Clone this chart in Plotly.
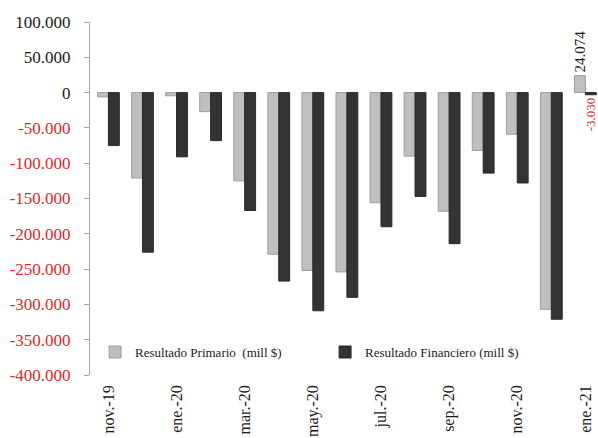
import plotly.graph_objects as go

# Monthly fiscal results (millions of pesos)
categories = ["nov.-19", "dic.-19", "ene.-20", "feb.-20", "mar.-20", "abr.-20",
              "may.-20", "jun.-20", "jul.-20", "ago.-20", "sep.-20", "oct.-20",
              "nov.-20", "dic.-20", "ene.-21"]
primario = [-6000, -121000, -4500, -27000, -125000, -229000, -252000, -254000,
            -156000, -90000, -168000, -82000, -59000, -307000, 24074]
financiero = [-75000, -226000, -91000, -68000, -167000, -267000, -309000, -290000,
              -190000, -147000, -214000, -114000, -128000, -321000, -3030]
tick_values = [100000, 50000, 0, -50000, -100000, -150000, -200000, -250000,
               -300000, -350000, -400000]
shown_months = ["nov.-19", "ene.-20", "mar.-20", "may.-20", "jul.-20",
                "sep.-20", "nov.-20", "ene.-21"]

RED = "#e3262b"
INK = "#1a1a1a"
FONT = "Liberation Serif"


def fmt(v):
    return f"{v:,}".replace(",", ".")


def tick_label(v):
    s = fmt(v)
    return f'<span style="color:{RED}">{s}</span>' if v < 0 else s


def value_text(vals):
    # only the latest month carries a data label
    last = len(vals) - 1
    return [fmt(v) if i == last else "" for i, v in enumerate(vals)]


def value_colors(vals):
    return [RED if v < 0 else INK for v in vals]


fig = go.Figure()
fig.add_trace(go.Bar(
    x=categories, y=primario, name="Resultado Primario\u00a0 (mill $)",
    marker=dict(color="#bfbfbf", line=dict(color="#9e9e9e", width=1)),
    text=value_text(primario), textposition="outside", textangle=-90,
    textfont=dict(family=FONT, size=15, color=value_colors(primario)),
    constraintext="none", cliponaxis=False,
))
fig.add_trace(go.Bar(
    x=categories, y=financiero, name="Resultado Financiero (mill $)",
    marker=dict(color="#333333", line=dict(color="#2a2a2a", width=1)),
    text=value_text(financiero), textposition="outside", textangle=-90,
    textfont=dict(family=FONT, size=13, color=value_colors(financiero)),
    constraintext="none", cliponaxis=False,
))

fig.update_layout(
    width=598, height=438,
    margin=dict(l=90, r=0, t=22, b=63),
    paper_bgcolor="white", plot_bgcolor="white",
    barmode="group", bargap=0.36, bargroupgap=0,
    font=dict(family=FONT, color=INK),
    showlegend=True,
    legend=dict(
        orientation="h", x=0.01, y=0.065, xanchor="left", yanchor="middle",
        font=dict(family=FONT, size=13, color=INK),
        bgcolor="rgba(0,0,0,0)", itemwidth=30,
        entrywidth=185, entrywidthmode="pixels",
    ),
    xaxis=dict(
        type="category", range=[-0.54, 14.37], automargin=False,
        tickmode="array", tickvals=shown_months, ticktext=shown_months,
        tickangle=-90, tickfont=dict(family=FONT, size=16, color=INK),
        showline=False, showgrid=False, zeroline=False, ticks="",
        ticklabelstandoff=6,
    ),
    yaxis=dict(
        range=[-400000, 100000], automargin=False,
        tickmode="array", tickvals=tick_values,
        ticktext=[tick_label(v) for v in tick_values],
        tickfont=dict(family=FONT, size=17, color=INK),
        showline=True, linecolor="#a6a6a6", linewidth=1,
        ticks="outside", ticklen=5, tickcolor="#a6a6a6",
        showgrid=False, zeroline=False, ticklabelstandoff=10,
    ),
)

fig.write_html("out.html")
